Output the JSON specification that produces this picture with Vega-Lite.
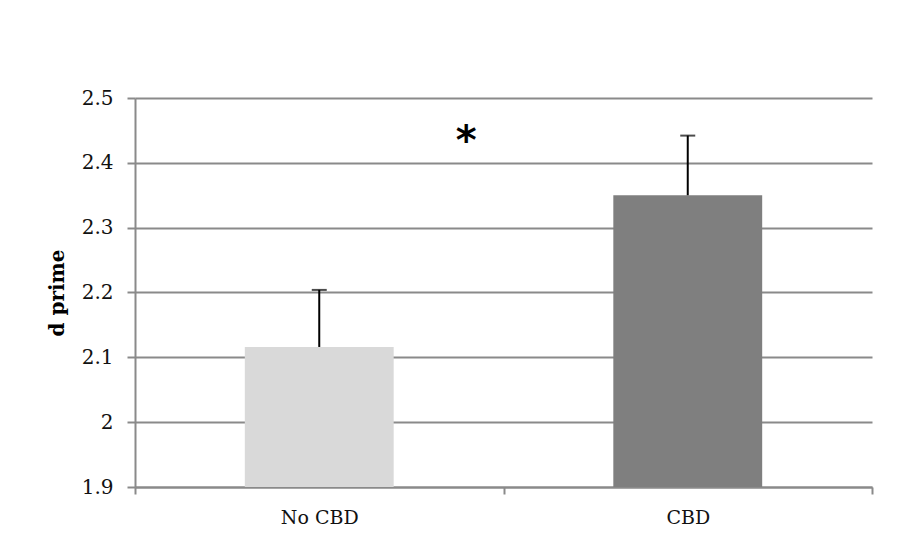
{
  "$schema": "https://vega.github.io/schema/vega-lite/v6.json",
  "width": 737,
  "height": 389,
  "autosize": {"type": "none"},
  "padding": {"left": 135, "top": 98, "right": 31, "bottom": 61},
  "background": "white",
  "config": {
    "view": {"stroke": null},
    "font": "DejaVu Serif",
    "axis": {"labelFont": "DejaVu Serif", "titleFont": "DejaVu Serif", "labelColor": "#111", "titleColor": "#000"}
  },
  "data": {
    "values": [
      {"group": "No CBD", "dprime": 2.116, "upper": 2.204},
      {"group": "CBD", "dprime": 2.35, "upper": 2.442}
    ]
  },
  "encoding": {
    "x": {
      "field": "group",
      "type": "nominal",
      "sort": ["No CBD", "CBD"],
      "scale": {"paddingInner": 0, "paddingOuter": 0},
      "axis": {
        "title": null,
        "labelAngle": 0,
        "labelFontSize": 19,
        "labelPadding": 14,
        "tickBand": "extent",
        "tickColor": "#8a8a8a",
        "tickWidth": 2,
        "tickSize": 7,
        "domainColor": "#8a8a8a",
        "domainWidth": 2,
        "grid": false
      }
    }
  },
  "layer": [
    {
      "mark": {"type": "bar", "width": {"band": 0.404}},
      "encoding": {
        "y": {
          "field": "dprime",
          "type": "quantitative",
          "scale": {"domain": [1.9, 2.5], "zero": false, "nice": false},
          "axis": {
            "title": "d prime",
            "titleFontSize": 20,
            "titleFontWeight": "bold",
            "titlePadding": 14,
            "values": [1.9, 2.0, 2.1, 2.2, 2.3, 2.4, 2.5],
            "format": "~g",
            "labelFontSize": 20,
            "labelPadding": 14,
            "tickColor": "#8a8a8a",
            "tickWidth": 2,
            "tickSize": 8,
            "domainColor": "#8a8a8a",
            "domainWidth": 2,
            "gridColor": "#8a8a8a",
            "gridWidth": 2
          }
        },
        "y2": {"datum": 1.9},
        "color": {
          "field": "group",
          "type": "nominal",
          "scale": {"domain": ["No CBD", "CBD"], "range": ["#d9d9d9", "#7f7f7f"]},
          "legend": null
        }
      }
    },
    {
      "mark": {"type": "rule", "color": "black", "strokeWidth": 2},
      "encoding": {
        "y": {"field": "dprime", "type": "quantitative"},
        "y2": {"field": "upper"}
      }
    },
    {
      "mark": {"type": "tick", "color": "black", "thickness": 2, "size": 15, "orient": "horizontal"},
      "encoding": {
        "y": {"field": "upper", "type": "quantitative"}
      }
    },
    {
      "data": {"values": [{"group": "No CBD", "y": 2.44, "label": "*"}]},
      "mark": {"type": "text", "fontSize": 40, "fontWeight": "bold", "font": "DejaVu Sans", "xOffset": 147, "yOffset": 5, "baseline": "middle", "color": "black"},
      "encoding": {
        "x": {"field": "group", "type": "nominal"},
        "y": {"field": "y", "type": "quantitative"},
        "text": {"field": "label"}
      }
    }
  ]
}
